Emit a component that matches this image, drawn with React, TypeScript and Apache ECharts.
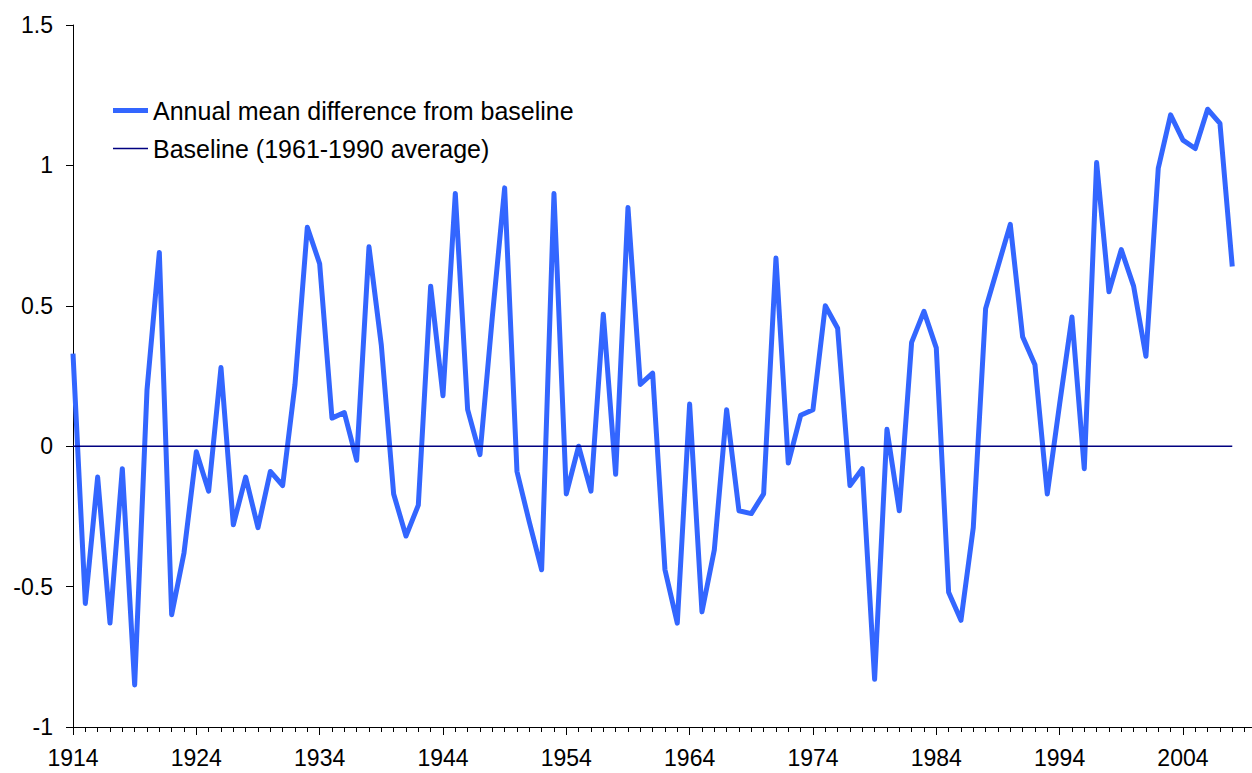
import React, { useEffect, useRef } from "react";
import * as echarts from "echarts";

const years = [
  1914, 1915, 1916, 1917, 1918, 1919, 1920, 1921, 1922, 1923,
  1924, 1925, 1926, 1927, 1928, 1929, 1930, 1931, 1932, 1933,
  1934, 1935, 1936, 1937, 1938, 1939, 1940, 1941, 1942, 1943,
  1944, 1945, 1946, 1947, 1948, 1949, 1950, 1951, 1952, 1953,
  1954, 1955, 1956, 1957, 1958, 1959, 1960, 1961, 1962, 1963,
  1964, 1965, 1966, 1967, 1968, 1969, 1970, 1971, 1972, 1973,
  1974, 1975, 1976, 1977, 1978, 1979, 1980, 1981, 1982, 1983,
  1984, 1985, 1986, 1987, 1988, 1989, 1990, 1991, 1992, 1993,
  1994, 1995, 1996, 1997, 1998, 1999, 2000, 2001, 2002, 2003,
  2004, 2005, 2006, 2007, 2008,
];

const annualDiff = [
  0.33, -0.56, -0.11, -0.63, -0.08, -0.85, 0.2, 0.69, -0.6, -0.38,
  -0.02, -0.16, 0.28, -0.28, -0.11, -0.29, -0.09, -0.14, 0.22, 0.78,
  0.65, 0.1, 0.12, -0.05, 0.71, 0.36, -0.17, -0.32, -0.21, 0.57,
  0.18, 0.9, 0.13, -0.03, 0.46, 0.92, -0.09, -0.27, -0.44, 0.9,
  -0.17, 0.0, -0.16, 0.47, -0.1, 0.85, 0.22, 0.26, -0.44, -0.63,
  0.15, -0.59, -0.37, 0.13, -0.23, -0.24, -0.17, 0.67, -0.06, 0.11,
  0.13, 0.5, 0.42, -0.14, -0.08, -0.83, 0.06, -0.23, 0.37, 0.48,
  0.35, -0.52, -0.62, -0.29, 0.49, 0.64, 0.79, 0.39, 0.29, -0.17,
  0.15, 0.46, -0.08, 1.01, 0.55, 0.7, 0.57, 0.32, 0.99, 1.18,
  1.09, 1.06, 1.2, 1.15, 0.64,
];

const baselineYears = [1914, 2008];
const baselineValues = [0, 0];

const yTicks = [-1, -0.5, 0, 0.5, 1, 1.5];
const firstLabelYear = 1914;
const labelStep = 10;

const seriesNames = ["Annual mean difference from baseline", "Baseline (1961-1990 average)"];

const FONT = "'Liberation Sans', Arial, sans-serif";

export default function App() {
  const ref = useRef<HTMLDivElement>(null);

  useEffect(() => {
    if (!ref.current) return;
    const chart = echarts.init(ref.current, null, { renderer: "svg" });
    const xMin = firstLabelYear;
    const xMax = 2009.6;
    chart.setOption({
      animation: false,
      backgroundColor: "#ffffff",
      textStyle: { fontFamily: FONT },
      grid: { left: 73, top: 25, right: 0, bottom: 46, containLabel: false },
      legend: {
        orient: "vertical",
        left: 108,
        top: 93,
        itemWidth: 35,
        itemHeight: 24,
        itemGap: 13,
        textStyle: { fontFamily: FONT, fontSize: 25, color: "#000", lineHeight: 24 },
        data: [
          { name: seriesNames[0], icon: "path://M0 0H35V5H0Z" },
          { name: seriesNames[1], icon: "path://M0 0H33V1.5H0Z" },
        ],
      },
      xAxis: [
        {
          type: "value",
          position: "bottom",
          min: xMin,
          max: xMax,
          interval: 1,
          axisLine: { show: true, onZero: false, lineStyle: { color: "#000", width: 1 } },
          axisTick: { show: true, length: 5, lineStyle: { color: "#000" } },
          axisLabel: { show: false },
          splitLine: { show: false },
        },
        {
          type: "value",
          position: "bottom",
          min: xMin,
          max: xMax,
          interval: labelStep,
          axisLine: { show: false, onZero: false },
          axisTick: { show: true, length: 8, lineStyle: { color: "#000" } },
          axisLabel: {
            show: true,
            margin: 19,
            fontFamily: FONT,
            fontSize: 23,
            color: "#000",
            showMaxLabel: false,
            formatter: (v: number) =>
              Math.abs((v - firstLabelYear) % labelStep) < 1e-6 ? String(Math.round(v)) : "",
          },
          splitLine: { show: false },
        },
      ],
      yAxis: {
        type: "value",
        min: yTicks[0],
        max: yTicks[yTicks.length - 1],
        interval: 0.5,
        axisLine: { show: true, onZero: false, lineStyle: { color: "#000", width: 1 } },
        axisTick: { show: true, length: 7, lineStyle: { color: "#000" } },
        axisLabel: {
          margin: 20,
          fontFamily: FONT,
          fontSize: 23,
          color: "#000",
        },
        splitLine: { show: false },
      },
      series: [
        {
          name: seriesNames[0],
          type: "line",
          xAxisIndex: 0,
          symbol: "none",
          data: years.map((y, i) => [y, annualDiff[i]]),
          lineStyle: { color: "#3366ff", width: 5, join: "round" },
          itemStyle: { color: "#3366ff" },
          z: 2,
        },
        {
          name: seriesNames[1],
          type: "line",
          xAxisIndex: 0,
          symbol: "none",
          data: baselineYears.map((y, i) => [y, baselineValues[i]]),
          lineStyle: { color: "#000080", width: 1.5 },
          itemStyle: { color: "#000080" },
          z: 3,
        },
      ],
    });
    return () => chart.dispose();
  }, []);

  return (
    <div
      ref={ref}
      style={{ position: "fixed", left: 0, top: 0, width: 1252, height: 773, background: "#fff" }}
    />
  );
}
